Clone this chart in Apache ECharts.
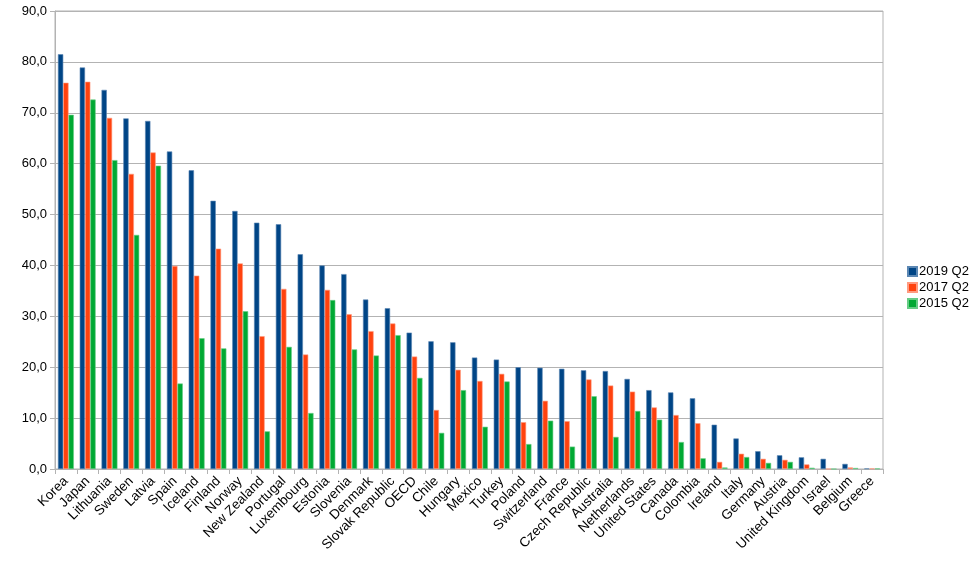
<!DOCTYPE html>
<html>
<head>
<meta charset="utf-8">
<script src="https://cdn.jsdelivr.net/npm/echarts@6/dist/echarts.min.js"></script>
<style>
html,body{margin:0;padding:0;background:#fff;}
#chart{width:980px;height:572px;}
</style>
</head>
<body>
<div id="chart"></div>
<script>
const categories = ["Korea","Japan","Lithuania","Sweden","Latvia","Spain","Iceland","Finland","Norway","New Zealand","Portugal","Luxembourg","Estonia","Slovenia","Denmark","Slovak Republic","OECD","Chile","Hungary","Mexico","Turkey","Poland","Switzerland","France","Czech Republic","Australia","Netherlands","United States","Canada","Colombia","Ireland","Italy","Germany","Austria","United Kingdom","Israel","Belgium","Greece"];
const seriesNames = ["2019 Q2","2017 Q2","2015 Q2"];
const v2019 = [81.5,78.9,74.5,68.9,68.4,62.4,58.7,52.7,50.7,48.4,48.1,42.2,40.0,38.3,33.3,31.6,26.8,25.1,24.9,21.9,21.5,20.0,19.9,19.7,19.4,19.25,17.7,15.5,15.05,13.9,8.7,6.0,3.5,2.7,2.3,2.0,1.0,0.1];
const v2017 = [75.9,76.1,69.0,58.0,62.2,39.9,38.0,43.3,40.4,26.1,35.4,22.5,35.2,30.4,27.1,28.6,22.1,11.6,19.5,17.3,18.7,9.2,13.4,9.4,17.6,16.4,15.2,12.1,10.6,9.0,1.4,3.0,2.0,1.8,0.9,0,0.3,0.1];
const v2015 = [69.6,72.6,60.7,46.0,59.6,16.8,25.7,23.7,31.0,7.4,24.0,11.0,33.2,23.5,22.3,26.3,17.9,7.1,15.5,8.3,17.2,4.9,9.5,4.4,14.3,6.3,11.4,9.7,5.3,2.1,0.3,2.35,1.2,1.4,0.25,0,0.2,0.1];
const colors = ["#004586","#ff420e","#00a933"];
const borders = ["#5b87b3","#ff9a80","#66cc85"];

const chart = echarts.init(document.getElementById('chart'), null, {renderer:'canvas'});
const mk = (name, data, i) => ({
  name, type:'bar', data,
  barGap:'0%', barCategoryGap:'27%',
  itemStyle:{color:colors[i], borderColor:borders[i], borderWidth:0.6},
  emphasis:{disabled:true}
});
chart.setOption({
  animation:false,
  textStyle:{fontFamily:'"Liberation Sans", Arial, sans-serif'},
  color:colors,
  grid:{left:55, right:97, top:11, bottom:103, show:true, borderColor:'#b3b3b3', borderWidth:1},
  legend:{
    orient:'vertical', left:902, top:260,
    itemWidth:9, itemHeight:9, itemGap:3,
    icon:'rect',
    textStyle:{fontSize:13, color:'#000', padding:[0,0,0,-3]},
    data:seriesNames
  },
  xAxis:{
    type:'category', data:categories,
    axisLine:{show:true, lineStyle:{color:'#b3b3b3'}},
    axisTick:{show:true, length:5, lineStyle:{color:'#b3b3b3'}},
    axisLabel:{rotate:45, interval:0, fontSize:13.5, color:'#000', margin:10}
  },
  yAxis:{
    type:'value', min:0, max:90, interval:10,
    axisLine:{show:true, lineStyle:{color:'#b3b3b3'}},
    axisTick:{show:true, length:5, lineStyle:{color:'#b3b3b3'}},
    splitLine:{lineStyle:{color:'#b3b3b3'}},
    axisLabel:{fontSize:13, color:'#000', margin:8, formatter:v=>v.toFixed(1).replace('.',',')}
  },
  series:[mk(seriesNames[0],v2019,0), mk(seriesNames[1],v2017,1), mk(seriesNames[2],v2015,2)]
});
</script>
</body>
</html>
